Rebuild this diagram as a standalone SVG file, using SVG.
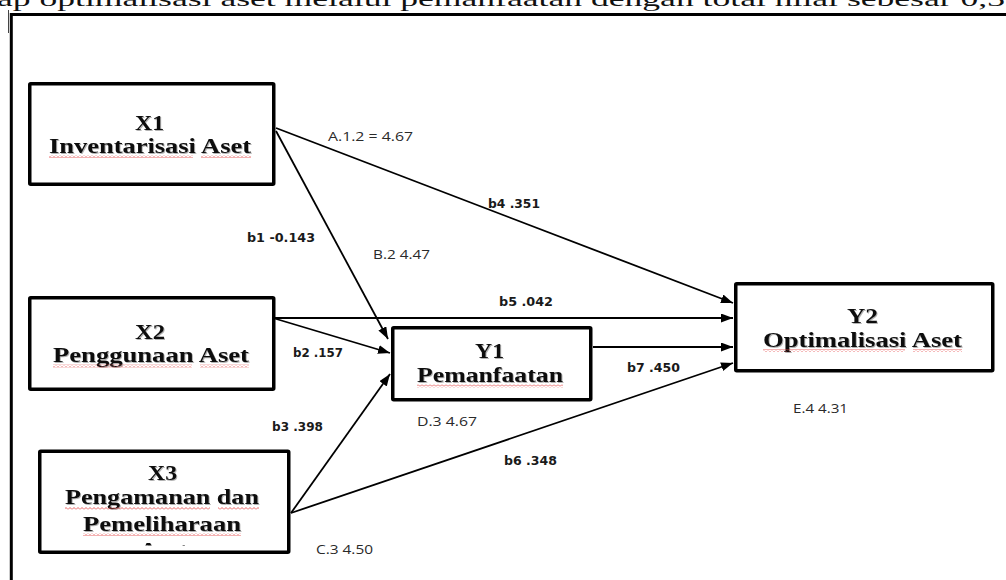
<svg xmlns="http://www.w3.org/2000/svg" width="1006" height="580" viewBox="0 0 1006 580">
<style>
.box{fill:#fff;stroke:#000;stroke-width:3.5}
.nt{font-family:"Liberation Serif","Times New Roman",serif;font-weight:bold;font-size:22px;fill:#111;filter:url(#sh)}
.cn{fill:none;stroke:#000;stroke-width:1.8;marker-end:url(#ah)}
.lr{font-family:"Open Sans","DejaVu Sans",sans-serif;font-size:12.5px;fill:#2a2a2a}
.lb{font-family:"DejaVu Sans","Open Sans",sans-serif;font-weight:bold;font-size:12px;fill:#1a1a1a}
.wv{fill:url(#wave)}
.frame{stroke:#000;stroke-width:3;fill:none}
</style>
<defs>
<marker id="ah" markerUnits="userSpaceOnUse" markerWidth="13" markerHeight="10" refX="12" refY="4.5" orient="auto">
<path d="M0,0 L12,4.5 L0,9 z" fill="#000"/>
</marker>
<pattern id="wave" width="4" height="3" patternUnits="userSpaceOnUse">
<path d="M0,2.5 L2,0.5 L4,2.5" stroke="#e23b3b" stroke-width="0.8" fill="none"/>
</pattern>
<filter id="sh" x="-5%" y="-20%" width="110%" height="140%">
<feDropShadow dx="1" dy="1" stdDeviation="0.6" flood-color="#000" flood-opacity="0.3"/>
</filter>
<clipPath id="x3clip"><rect x="40" y="452" width="248" height="93.5"/></clipPath>
</defs>
<rect width="1006" height="580" fill="#fff"/>
<text x="-3" y="5.5" font-family="Liberation Serif, serif" font-size="22" fill="#111" textLength="1008" lengthAdjust="spacingAndGlyphs">ap optimalisasi aset melalui pemanfaatan dengan total nilai sebesar 0,3</text>
<g id="frame">
<line class="frame" x1="10" y1="14.5" x2="1006" y2="14.5"/>
<line class="frame" x1="11.3" y1="13" x2="11.3" y2="580"/>
<line x1="8.5" y1="10" x2="8.5" y2="33" stroke="#444" stroke-width="1"/>
</g>
<g id="connectors">
<line class="cn" x1="276" y1="128" x2="733" y2="303"/>
<line class="cn" x1="276" y1="131" x2="388" y2="339"/>
<line class="cn" x1="273" y1="318" x2="733" y2="318"/>
<line class="cn" x1="273" y1="318" x2="390" y2="353"/>
<line class="cn" x1="291" y1="513" x2="390" y2="374"/>
<line class="cn" x1="291" y1="513" x2="733" y2="363"/>
<line class="cn" x1="593" y1="347" x2="733" y2="347"/>
</g>
<g id="X1">
<rect class="box" x="29.75" y="83.75" width="244" height="100.5" rx="1"/>
<text class="nt" x="135" y="130" textLength="29" lengthAdjust="spacingAndGlyphs">X1</text>
<text class="nt" x="49" y="153" textLength="202" lengthAdjust="spacingAndGlyphs">Inventarisasi Aset</text>
<rect class="wv" x="49" y="155" width="144" height="3"/>
<rect class="wv" x="201" y="155" width="50" height="3"/>
</g>
<g id="X2">
<rect class="box" x="29.75" y="297.75" width="244" height="91.5" rx="1"/>
<text class="nt" x="135" y="339" textLength="30" lengthAdjust="spacingAndGlyphs">X2</text>
<text class="nt" x="53" y="362" textLength="196" lengthAdjust="spacingAndGlyphs">Penggunaan Aset</text>
<rect class="wv" x="53" y="364.5" width="139" height="3"/>
<rect class="wv" x="200" y="364.5" width="49" height="3"/>
</g>
<g id="X3">
<rect class="box" x="39.75" y="451.25" width="249" height="101" rx="1"/>
<text class="nt" x="148" y="480" textLength="29" lengthAdjust="spacingAndGlyphs">X3</text>
<text class="nt" x="65" y="504" textLength="194" lengthAdjust="spacingAndGlyphs">Pengamanan dan</text>
<rect class="wv" x="65" y="507" width="145" height="3"/>
<rect class="wv" x="218" y="507" width="41" height="3"/>
<text class="nt" x="83" y="530.5" textLength="158" lengthAdjust="spacingAndGlyphs">Pemeliharaan</text>
<rect class="wv" x="83" y="533" width="158" height="3"/>
<g clip-path="url(#x3clip)">
<text class="nt" x="139" y="557" textLength="49" lengthAdjust="spacingAndGlyphs">Aset</text>
</g>
</g>
<g id="Y1">
<rect class="box" x="392.75" y="327.75" width="198" height="72" rx="1"/>
<text class="nt" x="475" y="358" textLength="29" lengthAdjust="spacingAndGlyphs">Y1</text>
<text class="nt" x="417" y="382" textLength="146" lengthAdjust="spacingAndGlyphs">Pemanfaatan</text>
<rect class="wv" x="417" y="384.5" width="146" height="3"/>
</g>
<g id="Y2">
<rect class="box" x="735.75" y="283.75" width="257" height="87" rx="1"/>
<text class="nt" x="847" y="323" textLength="31" lengthAdjust="spacingAndGlyphs">Y2</text>
<text class="nt" x="763" y="347" textLength="199" lengthAdjust="spacingAndGlyphs">Optimalisasi Aset</text>
<rect class="wv" x="763" y="349" width="142" height="3"/>
<rect class="wv" x="913" y="349" width="49" height="3"/>
</g>
<g id="labels">
<text class="lr" x="328" y="141" textLength="85" lengthAdjust="spacingAndGlyphs">A.1.2 = 4.67</text>
<text class="lr" x="373" y="258.5" textLength="57" lengthAdjust="spacingAndGlyphs">B.2 4.47</text>
<text class="lr" x="316" y="553.5" textLength="57" lengthAdjust="spacingAndGlyphs">C.3 4.50</text>
<text class="lr" x="417" y="426" textLength="60" lengthAdjust="spacingAndGlyphs">D.3 4.67</text>
<text class="lr" x="793" y="412.5" textLength="55" lengthAdjust="spacingAndGlyphs">E.4 4.31</text>
<text class="lb" x="488" y="208" textLength="52" lengthAdjust="spacingAndGlyphs">b4 .351</text>
<text class="lb" x="247" y="241.5" textLength="68" lengthAdjust="spacingAndGlyphs">b1 -0.143</text>
<text class="lb" x="499" y="305.5" textLength="54" lengthAdjust="spacingAndGlyphs">b5 .042</text>
<text class="lb" x="293" y="357" textLength="50" lengthAdjust="spacingAndGlyphs">b2 .157</text>
<text class="lb" x="272" y="430.5" textLength="51" lengthAdjust="spacingAndGlyphs">b3 .398</text>
<text class="lb" x="627" y="372" textLength="53" lengthAdjust="spacingAndGlyphs">b7 .450</text>
<text class="lb" x="504" y="465" textLength="53" lengthAdjust="spacingAndGlyphs">b6 .348</text>
</g>
</svg>
